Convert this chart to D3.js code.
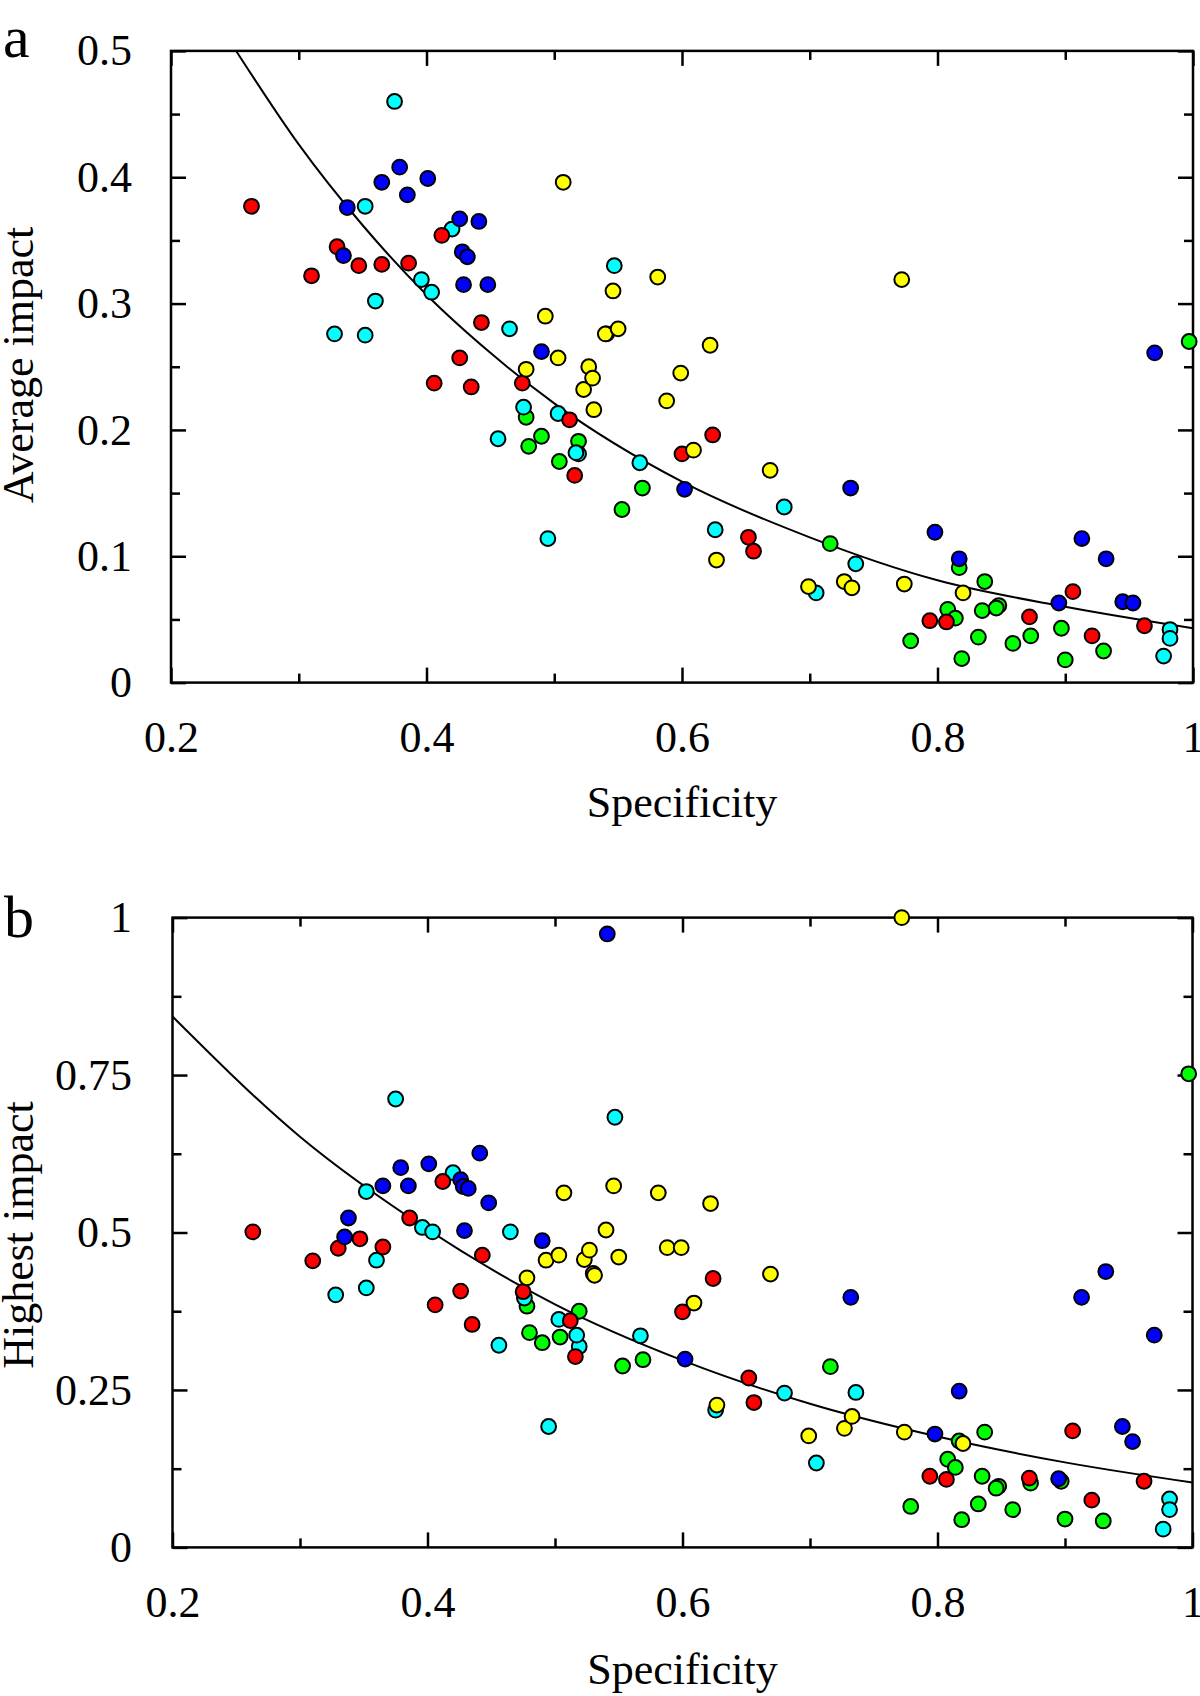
<!DOCTYPE html>
<html><head><meta charset="utf-8">
<script src="https://cdn.jsdelivr.net/npm/d3@7"></script>
<style>
body{margin:0;background:#fff}
svg{display:block}
text{font-family:"Liberation Serif","Times New Roman",serif;fill:#000}
</style>
</head><body>
<svg id="chart" width="1200" height="1696"></svg>
<script>
// ---------- DATA ----------
// x = specificity, avg = average impact (panel a), high = highest impact (panel b)
const redSpec = [0.263,0.310,0.330,0.347,0.365,0.386,0.406,0.412,0.426,0.435,0.443,0.475,0.512,0.516,0.600,0.624,0.652,0.656,0.794,0.807,0.872,0.906,0.921,0.962];
const redAvg  = [0.377,0.322,0.345,0.330,0.331,0.332,0.237,0.354,0.257,0.234,0.285,0.237,0.208,0.164,0.181,0.196,0.115,0.104,0.049,0.048,0.052,0.072,0.037,0.045];
const redHigh = [0.501,0.455,0.475,0.490,0.477,0.523,0.385,0.581,0.407,0.354,0.464,0.406,0.360,0.303,0.374,0.427,0.269,0.230,0.113,0.108,0.110,0.185,0.075,0.105];

const blueSpec = [0.335,0.338,0.365,0.379,0.385,0.401,0.426,0.428,0.432,0.429,0.441,0.448,0.490,0.541,0.602,0.732,0.798,0.817,0.895,0.913,0.932,0.945,0.953,0.970];
const blueAvg  = [0.338,0.376,0.396,0.408,0.386,0.399,0.367,0.341,0.337,0.315,0.365,0.315,0.262,0.276,0.153,0.154,0.119,0.098,0.063,0.114,0.098,0.064,0.063,0.261];
const blueHigh = [0.493,0.523,0.574,0.603,0.574,0.609,0.584,0.573,0.570,0.503,0.626,0.547,0.487,0.974,0.299,0.397,0.180,0.248,0.109,0.397,0.438,0.192,0.168,0.337];

const cyanSpec = [0.328,0.352,0.352,0.360,0.375,0.396,0.404,0.420,0.456,0.465,0.476,0.495,0.503,0.519,0.517,0.547,0.567,0.626,0.680,0.705,0.736,0.982,0.982,0.977];
const cyanAvg  = [0.276,0.377,0.275,0.302,0.460,0.319,0.309,0.359,0.193,0.280,0.218,0.114,0.213,0.181,0.182,0.330,0.174,0.121,0.139,0.071,0.094,0.042,0.035,0.021];
const cyanHigh = [0.401,0.565,0.412,0.456,0.712,0.508,0.501,0.595,0.321,0.501,0.396,0.192,0.362,0.319,0.337,0.683,0.336,0.218,0.245,0.134,0.246,0.077,0.060,0.029];

const yellowSpec = [0.478,0.493,0.503,0.507,0.523,0.527,0.530,0.531,0.540,0.546,0.550,0.581,0.588,0.599,0.609,0.622,0.627,0.669,0.699,0.727,0.733,0.772,0.774,0.820];
const yellowAvg  = [0.248,0.290,0.257,0.396,0.232,0.250,0.241,0.216,0.276,0.310,0.280,0.321,0.223,0.245,0.184,0.267,0.097,0.168,0.076,0.080,0.075,0.319,0.078,0.071];
const yellowHigh = [0.428,0.456,0.464,0.563,0.457,0.472,0.435,0.432,0.504,0.574,0.461,0.563,0.476,0.476,0.388,0.546,0.226,0.434,0.177,0.189,0.208,1.000,0.183,0.165];

const greenSpec = [0.478,0.480,0.490,0.504,0.519,0.553,0.569,0.716,0.779,0.808,0.814,0.817,0.819,0.832,0.835,0.837,0.848,0.846,0.859,0.873,0.897,0.900,0.930,0.997];
const greenAvg  = [0.210,0.187,0.195,0.175,0.191,0.137,0.154,0.110,0.033,0.058,0.051,0.091,0.019,0.036,0.057,0.080,0.061,0.059,0.031,0.037,0.043,0.018,0.025,0.270];
const greenHigh = [0.383,0.341,0.325,0.334,0.375,0.288,0.298,0.287,0.065,0.140,0.127,0.169,0.044,0.069,0.113,0.183,0.097,0.094,0.060,0.102,0.105,0.045,0.042,0.752];

// fitted trend curves
const curveASpec = [0.251,0.30,0.35,0.40,0.45,0.50,0.60,0.70,0.80,0.90,1.00];
const curveAVal  = [0.500,0.426,0.362,0.307,0.261,0.221,0.159,0.115,0.081,0.060,0.043];
const curveBSpec = [0.20,0.30,0.40,0.50,0.60,0.70,0.80,0.90,1.00];
const curveBVal  = [0.843,0.652,0.505,0.386,0.297,0.228,0.176,0.135,0.103];

// ticks
const xMajor = [0.2,0.4,0.6,0.8,1.0];
const xMajorLabels = ["0.2","0.4","0.6","0.8","1"];
const xMinor = [0.3,0.5,0.7,0.9];
const yMajorA = [0,0.1,0.2,0.3,0.4,0.5];
const yMajorALabels = ["0","0.1","0.2","0.3","0.4","0.5"];
const yMinorA = [0.05,0.15,0.25,0.35,0.45];
const yMajorB = [0,0.25,0.5,0.75,1];
const yMajorBLabels = ["0","0.25","0.5","0.75","1"];
const yMinorB = [0.125,0.375,0.625,0.875];

const groups = [
  {name:"green",  color:"#00ff00", spec:greenSpec,  avg:greenAvg,  high:greenHigh},
  {name:"cyan",   color:"#00ffff", spec:cyanSpec,   avg:cyanAvg,   high:cyanHigh},
  {name:"red",    color:"#ff0000", spec:redSpec,    avg:redAvg,    high:redHigh},
  {name:"blue",   color:"#0000ff", spec:blueSpec,   avg:blueAvg,   high:blueHigh},
  {name:"yellow", color:"#ffff00", spec:yellowSpec, avg:yellowAvg, high:yellowHigh}
];

// ---------- DRAW ----------
const svg = d3.select("#chart");
const FS = 44;

function styleAxis(g){
  g.select(".domain").remove();
  g.selectAll(".tick line").attr("stroke","#000").attr("stroke-width",2.5);
  g.selectAll(".tick text").attr("font-size",FS).attr("font-family",'"Liberation Serif","Times New Roman",serif').attr("fill","#000");
}

function panel(o){
  const x = d3.scaleLinear([0.2,1.0],[o.left,o.right]);
  const y = d3.scaleLinear([0,o.ymax],[o.bottom,o.top]);
  const g = svg.append("g");

  // minor ticks
  g.append("g").attr("transform",`translate(0,${o.bottom})`)
    .call(d3.axisBottom(x).tickValues(xMinor).tickFormat("").tickSizeInner(-9).tickSizeOuter(0)).call(styleAxis);
  g.append("g").attr("transform",`translate(0,${o.top})`)
    .call(d3.axisTop(x).tickValues(xMinor).tickFormat("").tickSizeInner(-9).tickSizeOuter(0)).call(styleAxis);
  g.append("g").attr("transform",`translate(${o.left},0)`)
    .call(d3.axisLeft(y).tickValues(o.yMinor).tickFormat("").tickSizeInner(-9).tickSizeOuter(0)).call(styleAxis);
  g.append("g").attr("transform",`translate(${o.right},0)`)
    .call(d3.axisRight(y).tickValues(o.yMinor).tickFormat("").tickSizeInner(-9).tickSizeOuter(0)).call(styleAxis);

  // major ticks with labels
  g.append("g").attr("transform",`translate(0,${o.bottom})`)
    .call(d3.axisBottom(x).tickValues(xMajor).tickFormat((d,i)=>xMajorLabels[i]).tickSizeInner(-15).tickSizeOuter(0).tickPadding(38)).call(styleAxis);
  g.append("g").attr("transform",`translate(0,${o.top})`)
    .call(d3.axisTop(x).tickValues(xMajor).tickFormat("").tickSizeInner(-15).tickSizeOuter(0)).call(styleAxis);
  g.append("g").attr("transform",`translate(${o.left},0)`)
    .call(d3.axisLeft(y).tickValues(o.yMajor).tickFormat((d,i)=>o.yLabels[i]).tickSizeInner(-15).tickSizeOuter(0).tickPadding(o.left-132)).call(styleAxis);
  g.append("g").attr("transform",`translate(${o.right},0)`)
    .call(d3.axisRight(y).tickValues(o.yMajor).tickFormat("").tickSizeInner(-15).tickSizeOuter(0)).call(styleAxis);

  // frame
  g.append("rect").attr("x",o.left).attr("y",o.top)
    .attr("width",o.right-o.left).attr("height",o.bottom-o.top)
    .attr("fill","none").attr("stroke","#000").attr("stroke-width",2.5);

  // trend curve
  const cdata = o.cx.map((v,i)=>[v,o.cy[i]]);
  g.append("path").datum(cdata)
    .attr("fill","none").attr("stroke","#000").attr("stroke-width",2)
    .attr("d", d3.line().x(d=>x(d[0])).y(d=>y(d[1])).curve(d3.curveMonotoneX));

  // points
  groups.forEach(gr=>{
    const pts = gr.spec.map((s,i)=>({s, v: gr[o.key][i]}));
    g.append("g").selectAll("circle").data(pts).join("circle")
      .attr("cx",d=>x(d.s)).attr("cy",d=>y(d.v)).attr("r",7.4)
      .attr("fill",gr.color).attr("stroke","#000").attr("stroke-width",2);
  });

  // titles
  g.append("text").attr("x",(o.left+o.right)/2).attr("y",o.xTitleY)
    .attr("text-anchor","middle").attr("font-size",FS).text("Specificity");
  g.append("text").attr("transform",`translate(33,${o.yTitleC}) rotate(-90)`)
    .attr("text-anchor","middle").attr("font-size",FS).text(o.yTitle);
  g.append("text").attr("x",o.letterX).attr("y",o.letterY).attr("font-size",60).text(o.letter);
}

panel({left:171, right:1193, top:50.9, bottom:682.6, ymax:0.5,
  yMajor:yMajorA, yLabels:yMajorALabels, yMinor:yMinorA, key:"avg",
  cx:curveASpec, cy:curveAVal, xTitleY:817, yTitle:"Average impact", yTitleC:365,
  letter:"a", letterX:3, letterY:57});

panel({left:172.5, right:1192.5, top:917.6, bottom:1547.4, ymax:1,
  yMajor:yMajorB, yLabels:yMajorBLabels, yMinor:yMinorB, key:"high",
  cx:curveBSpec, cy:curveBVal, xTitleY:1684, yTitle:"Highest impact", yTitleC:1235,
  letter:"b", letterX:4, letterY:937});
</script>
</body></html>
